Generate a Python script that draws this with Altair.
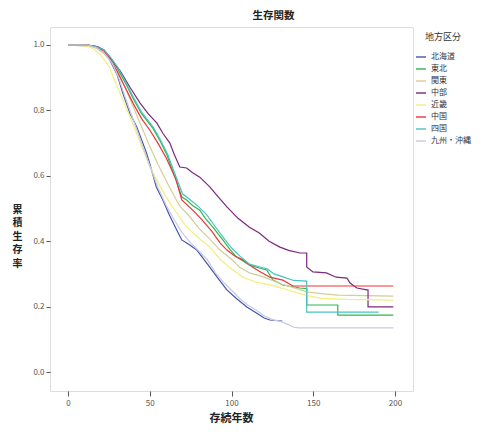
import altair as alt
import pandas as pd

regions = ["北海道", "東北", "関東", "中部", "近畿", "中国", "四国", "九州・沖縄"]
colors = ["#3e58ac", "#2eb848", "#d3ce97", "#7c287d", "#f3ef7a", "#ef3338", "#48c2c5", "#cdc8e0"]

hokkaido_t = [0, 12, 18, 22, 25.5, 30, 33.5, 38, 42, 45, 48, 51, 54, 58, 62, 66.5, 69.6, 74, 78.8, 83, 86.7, 92, 97.2, 103, 109.4, 115.5, 120, 123.5, 131]
hokkaido_s = [1, 1, 0.99, 0.975, 0.955, 0.91, 0.853, 0.79, 0.75, 0.71, 0.67, 0.62, 0.566, 0.526, 0.48, 0.434, 0.404, 0.39, 0.373, 0.345, 0.321, 0.285, 0.251, 0.225, 0.199, 0.18, 0.165, 0.159, 0.156]

tohoku_t = [0, 12, 17, 22, 26, 30, 35, 40, 45, 52, 56, 60.4, 66.5, 69.6, 72.6, 76, 80.6, 84, 88.6, 94.7, 99, 103, 111, 117, 121.6, 125.3, 131.4, 141.8, 146, 146, 165, 165, 199]
tohoku_s = [1, 1, 0.995, 0.985, 0.96, 0.93, 0.885, 0.835, 0.79, 0.745, 0.71, 0.665, 0.58, 0.535, 0.526, 0.51, 0.495, 0.47, 0.443, 0.404, 0.375, 0.352, 0.327, 0.318, 0.312, 0.281, 0.266, 0.257, 0.255, 0.205, 0.205, 0.174, 0.174]

kanto_t = [0, 15, 20, 25, 30, 35, 40, 45, 50, 55, 62, 68, 74.6, 80, 86, 93, 100, 105, 111, 120, 130, 140, 146, 155, 165, 199]
kanto_s = [1, 0.995, 0.985, 0.96, 0.92, 0.87, 0.81, 0.75, 0.69, 0.635, 0.566, 0.51, 0.474, 0.44, 0.41, 0.373, 0.345, 0.32, 0.303, 0.29, 0.27, 0.255, 0.245, 0.24, 0.235, 0.232]

chubu_t = [0, 12, 18, 22, 26, 32, 38, 44, 49, 54.4, 58, 62.3, 65, 68.4, 72.6, 76, 80.6, 86.7, 92, 97.2, 104, 111, 117, 123, 129.6, 135, 141.8, 146, 146, 149.8, 158, 164, 170.6, 172.5, 176.7, 182.8, 183.5, 183.5, 199]
chubu_s = [1, 1, 0.995, 0.985, 0.96, 0.92, 0.87, 0.823, 0.79, 0.761, 0.73, 0.70, 0.665, 0.627, 0.624, 0.61, 0.596, 0.566, 0.535, 0.505, 0.47, 0.443, 0.425, 0.40, 0.382, 0.372, 0.364, 0.364, 0.321, 0.306, 0.303, 0.29, 0.287, 0.272, 0.257, 0.251, 0.251, 0.199, 0.199]

kinki_t = [0, 10, 15, 20, 25, 30, 35, 40, 45, 50, 55, 60, 66, 72.6, 80, 86.7, 93, 100, 107, 115, 125, 135, 145, 155, 170, 199]
kinki_s = [1, 1, 0.99, 0.97, 0.935, 0.875, 0.815, 0.755, 0.69, 0.63, 0.58, 0.535, 0.49, 0.443, 0.41, 0.382, 0.345, 0.315, 0.29, 0.275, 0.265, 0.25, 0.235, 0.225, 0.222, 0.22]

chugoku_t = [0, 12, 17, 22, 26, 30, 35, 40, 45, 50, 55, 60, 66, 69.6, 76.3, 82, 88, 93, 97.2, 102, 107, 113, 118, 123.5, 131.4, 137.6, 199]
chugoku_s = [1, 1, 0.995, 0.982, 0.955, 0.92, 0.87, 0.82, 0.775, 0.74, 0.70, 0.655, 0.59, 0.526, 0.495, 0.465, 0.43, 0.395, 0.373, 0.355, 0.343, 0.32, 0.305, 0.29, 0.281, 0.263, 0.263]

shikoku_t = [0, 12, 17, 22, 26, 30, 35, 40, 45, 52, 56, 61, 67, 70, 74, 80, 85, 90, 96, 100, 105, 111, 117, 122, 126, 132, 138, 146, 146, 190]
shikoku_s = [1, 1, 0.995, 0.985, 0.962, 0.935, 0.89, 0.84, 0.795, 0.75, 0.715, 0.665, 0.585, 0.545, 0.53, 0.505, 0.48, 0.445, 0.405, 0.38, 0.355, 0.33, 0.322, 0.315, 0.30, 0.29, 0.28, 0.278, 0.183, 0.183]

kyushu_t = [0, 12, 18, 23, 27, 31, 35, 40, 45, 50, 55, 60, 65, 70, 75, 80, 85, 90, 95, 100, 105, 110, 115, 120, 125, 130, 135, 138, 141, 199]
kyushu_s = [1, 1, 0.99, 0.97, 0.945, 0.9, 0.84, 0.77, 0.70, 0.63, 0.565, 0.51, 0.465, 0.425, 0.395, 0.37, 0.345, 0.305, 0.275, 0.25, 0.225, 0.205, 0.19, 0.172, 0.16, 0.155, 0.145, 0.137, 0.135, 0.135]

series = [
    ("北海道", hokkaido_t, hokkaido_s),
    ("東北", tohoku_t, tohoku_s),
    ("関東", kanto_t, kanto_s),
    ("中部", chubu_t, chubu_s),
    ("近畿", kinki_t, kinki_s),
    ("中国", chugoku_t, chugoku_s),
    ("四国", shikoku_t, shikoku_s),
    ("九州・沖縄", kyushu_t, kyushu_s),
]

rows = []
for name, ts, ss in series:
    for i, (t, s) in enumerate(zip(ts, ss)):
        rows.append({"region": name, "t": t, "s": s, "idx": i})
df = pd.DataFrame(rows)

FONT = "Noto Sans CJK JP"

chart = alt.Chart(df).mark_line(strokeWidth=1.2, interpolate="linear").encode(
    x=alt.X("t:Q",
            scale=alt.Scale(domain=[-11, 211], nice=False, zero=False),
            axis=alt.Axis(values=[0, 50, 100, 150, 200], title="存続年数",
                          titleX=181, titleY=27, titleBaseline="middle",
                          titleFontSize=11, titleFontWeight="bold", titleColor="#222",
                          labelFontSize=8, labelColor="#555", tickColor="#555",
                          tickSize=5, labelPadding=3, grid=False, domain=False)),
    y=alt.Y("s:Q",
            scale=alt.Scale(domain=[-0.058, 1.055], nice=False, zero=False),
            axis=alt.Axis(values=[0, 0.2, 0.4, 0.6, 0.8, 1.0], format=".1f",
                          title=["累", "積", "生", "存", "率"], titleAngle=0,
                          titleX=-33, titleY=182, titleAlign="center",
                          titleBaseline="middle", titleLineHeight=13.5,
                          titleFontSize=10, titleFontWeight="bold", titleColor="#222",
                          labelFontSize=8, labelColor="#555", tickColor="#555",
                          tickSize=4, labelPadding=2, grid=False, domain=False)),
    color=alt.Color("region:N",
                    scale=alt.Scale(domain=regions, range=colors),
                    sort=regions,
                    legend=alt.Legend(title="地方区分", orient="none",
                                      legendX=365, legendY=6,
                                      titleFontSize=9, titleFontWeight="normal",
                                      titleColor="#333", titleAnchor="middle",
                                      titlePadding=9,
                                      labelFontSize=8, labelColor="#333",
                                      symbolType="stroke", symbolSize=100,
                                      symbolStrokeWidth=1.4, rowPadding=2,
                                      padding=0)),
    order="idx:Q",
).properties(
    width=363,
    height=364,
    padding={"left": 42, "top": 19, "right": 61, "bottom": 33},
    autosize=alt.AutoSizeParams(type="none"),
    title=alt.TitleParams("生存関数", anchor="middle", dx=42, offset=6,
                          fontSize=10.5, fontWeight="bold",
                          color="#222", font=FONT),
).configure_view(
    fill="#f0f0f0", stroke="#8c8c8c", strokeWidth=1.5
).configure(
    font=FONT, background="white"
)

chart.save("out.html", embed_options={"renderer": "svg", "actions": False})
